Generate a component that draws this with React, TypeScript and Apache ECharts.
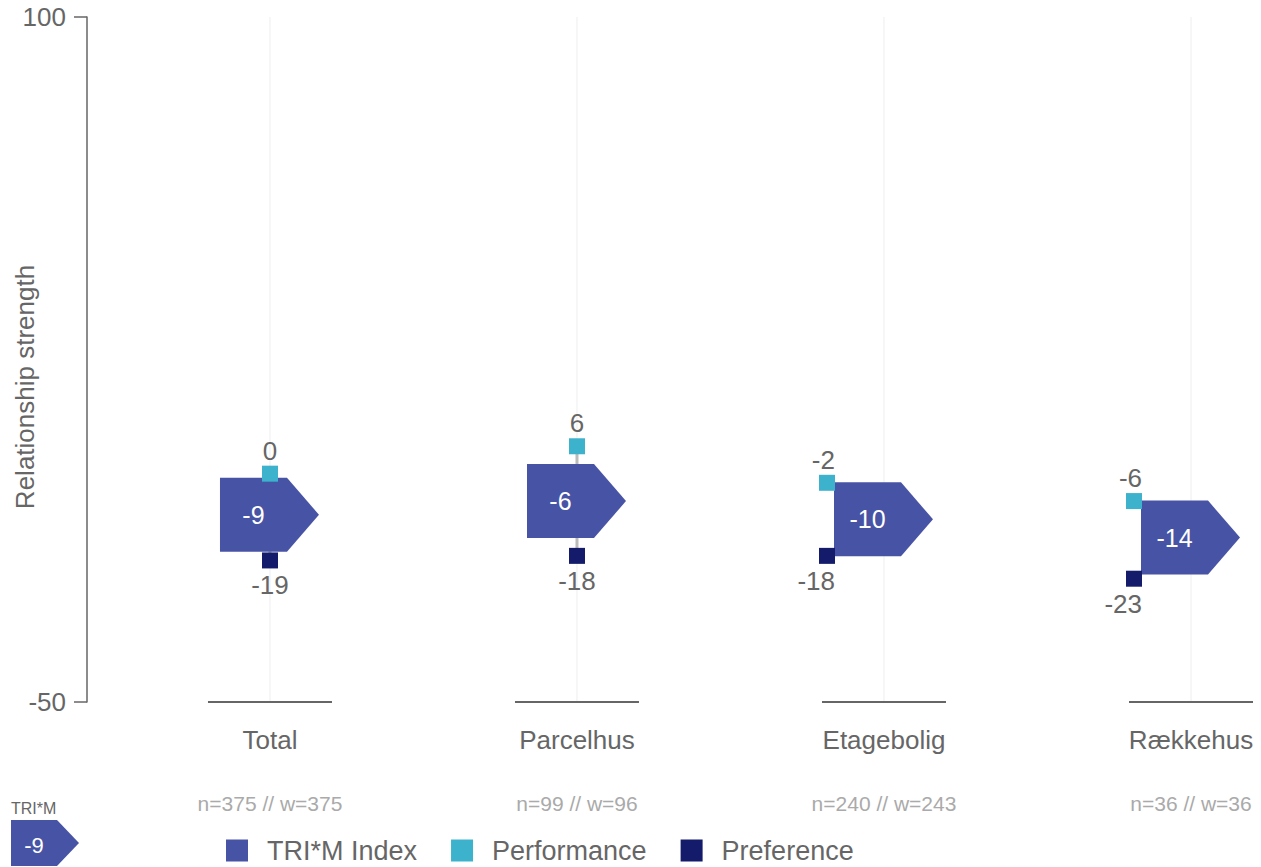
import React, { useEffect, useRef } from "react";
import * as echarts from "echarts";

const categories = ["Total", "Parcelhus", "Etagebolig", "Rækkehus"];
const sampleLabels = ["n=375 // w=375", "n=99 // w=96", "n=240 // w=243", "n=36 // w=36"];
const triMIndex = [-9, -6, -10, -14];
const performance = [0, 6, -2, -6];
const preference = [-19, -18, -18, -23];
const yMin = -50;
const yMax = 100;

const INDEX_COLOR = "#4753a5";
const PERF_COLOR = "#3db2cc";
const PREF_COLOR = "#131b6a";
const TEXT = "#666666";
const FONT = "Liberation Sans, Arial, sans-serif";

const HALF_H = 37;

function isShifted(api: any, i: number, idx: number, a: number, b: number) {
  const yi = api.coord([i, idx])[1];
  const ya = api.coord([i, a])[1];
  const yb = api.coord([i, b])[1];
  return Math.abs(ya - yi) < HALF_H || Math.abs(yb - yi) < HALF_H;
}

export default function App() {
  const ref = useRef<HTMLDivElement>(null);
  useEffect(() => {
    const chart = echarts.init(ref.current!, null, { renderer: "svg" });
    const idxData = triMIndex.map((v, i) => [i, v]);
    const squareRender = (isPerf: boolean) => (params: any, api: any) => {
      const i = api.value(0);
      const v = api.value(1);
      const idx = api.value(2);
      const other = api.value(3);
      const [cx0, cy] = api.coord([i, v]);
      const shifted = isShifted(api, i, idx, v, other);
      const cx = shifted ? cx0 - 57 : cx0;
      const s = 16;
      const children: any[] = [
        {
          type: "rect",
          shape: { x: cx - s / 2, y: cy - s / 2, width: s, height: s },
          style: { fill: isPerf ? PERF_COLOR : PREF_COLOR },
        },
      ];
      children.push({
        type: "text",
        style: {
          text: String(v),
          x: shifted ? cx + s / 2 : cx,
          y: isPerf ? cy - s / 2 - 2 : cy + s / 2 + 4,
          align: shifted ? "right" : "center",
          verticalAlign: isPerf ? "bottom" : "top",
          fontSize: 26,
          fontFamily: FONT,
          fill: TEXT,
        },
      });
      return { type: "group", children };
    };

    chart.setOption({
      animation: false,
      grid: { left: 87, right: 0, top: 17, bottom: 165 },
      xAxis: {
        type: "value",
        min: -0.596,
        max: 3.228,
        show: false,
      },
      yAxis: {
        type: "value",
        min: yMin,
        max: yMax,
        interval: yMax - yMin,
        axisLine: { show: true, onZero: false, lineStyle: { color: TEXT, width: 1.5 } },
        axisTick: { show: true, length: 13, lineStyle: { color: TEXT, width: 1.5 } },
        axisLabel: { color: TEXT, fontSize: 26, fontFamily: FONT, margin: 21 },
        splitLine: { show: false },
      },
      legend: {
        left: 226,
        top: 837,
        padding: 0,
        icon: "rect",
        itemWidth: 22,
        itemHeight: 22,
        itemGap: 34,
        textStyle: { color: TEXT, fontSize: 27, fontFamily: FONT, padding: [0, 0, 0, 14] },
        data: ["TRI*M Index", "Performance", "Preference"],
      },
      graphic: [
        {
          type: "text",
          x: 25,
          y: 387,
          rotation: Math.PI / 2,
          style: {
            text: "Relationship strength",
            align: "center",
            verticalAlign: "middle",
            fontSize: 26,
            fontFamily: FONT,
            fill: TEXT,
          },
        },
        {
          type: "text",
          x: 11,
          y: 816,
          style: { text: "TRI*M", fontSize: 16, fontFamily: FONT, fill: TEXT, verticalAlign: "bottom" },
        },
        {
          type: "polygon",
          shape: { points: [[11, 820], [57, 820], [79, 843], [57, 866], [11, 866]] },
          style: { fill: INDEX_COLOR },
        },
        {
          type: "text",
          x: 34,
          y: 845,
          style: {
            text: String(triMIndex[0]),
            align: "center",
            verticalAlign: "middle",
            fontSize: 22,
            fontFamily: FONT,
            fill: "#ffffff",
          },
        },
      ],
      series: [
        {
          type: "custom",
          name: "axisDecor",
          z: 0,
          silent: true,
          data: categories.map((_, i) => [i]),
          renderItem: (params: any, api: any) => {
            const i = api.value(0);
            const [cx, yb] = api.coord([i, yMin]);
            const yt = api.coord([i, yMax])[1];
            return {
              type: "group",
              children: [
                { type: "line", shape: { x1: cx, y1: yt, x2: cx, y2: yb }, style: { stroke: "#eeeeee", lineWidth: 1 } },
                { type: "line", shape: { x1: cx - 62, y1: yb, x2: cx + 62, y2: yb }, style: { stroke: TEXT, lineWidth: 2 } },
                {
                  type: "text",
                  style: { text: categories[i], x: cx, y: yb + 38, align: "center", verticalAlign: "middle", fontSize: 26, fontFamily: FONT, fill: TEXT },
                },
                {
                  type: "text",
                  style: { text: sampleLabels[i], x: cx, y: yb + 101, align: "center", verticalAlign: "middle", fontSize: 21, fontFamily: FONT, fill: "#aaaaaa" },
                },
              ],
            };
          },
        },
        {
          type: "custom",
          name: "connector",
          z: 1,
          silent: true,
          data: categories.map((_, i) => [i, performance[i], preference[i], triMIndex[i]]),
          renderItem: (params: any, api: any) => {
            const i = api.value(0);
            const p = api.value(1);
            const q = api.value(2);
            const idx = api.value(3);
            if (isShifted(api, i, idx, p, q)) return { type: "group", children: [] };
            const [cx, y1] = api.coord([i, p]);
            const y2 = api.coord([i, q])[1];
            return { type: "line", shape: { x1: cx, y1, x2: cx, y2 }, style: { stroke: "#bbbbbb", lineWidth: 3 } };
          },
        },
        {
          type: "custom",
          name: "TRI*M Index",
          z: 2,
          itemStyle: { color: INDEX_COLOR },
          data: idxData,
          renderItem: (params: any, api: any) => {
            const i = api.value(0);
            const v = api.value(1);
            const [cx, cy] = api.coord([i, v]);
            const left = cx - 50;
            const rr = cx + 17;
            const tip = cx + 49;
            return {
              type: "group",
              children: [
                {
                  type: "polygon",
                  shape: { points: [[left, cy - HALF_H], [rr, cy - HALF_H], [tip, cy], [rr, cy + HALF_H], [left, cy + HALF_H]] },
                  style: { fill: INDEX_COLOR },
                },
                {
                  type: "text",
                  style: { text: String(v), x: (left + rr) / 2, y: cy, align: "center", verticalAlign: "middle", fontSize: 25, fontFamily: FONT, fill: "#ffffff" },
                },
              ],
            };
          },
        },
        {
          type: "custom",
          name: "Performance",
          z: 3,
          itemStyle: { color: PERF_COLOR },
          data: categories.map((_, i) => [i, performance[i], triMIndex[i], preference[i]]),
          renderItem: squareRender(true),
        },
        {
          type: "custom",
          name: "Preference",
          z: 3,
          itemStyle: { color: PREF_COLOR },
          data: categories.map((_, i) => [i, preference[i], triMIndex[i], performance[i]]),
          renderItem: squareRender(false),
        },
      ],
    });
    return () => chart.dispose();
  }, []);
  return (
    <div
      ref={ref}
      style={{ position: "fixed", left: 0, top: 0, width: 1261, height: 867, background: "#ffffff" }}
    />
  );
}
